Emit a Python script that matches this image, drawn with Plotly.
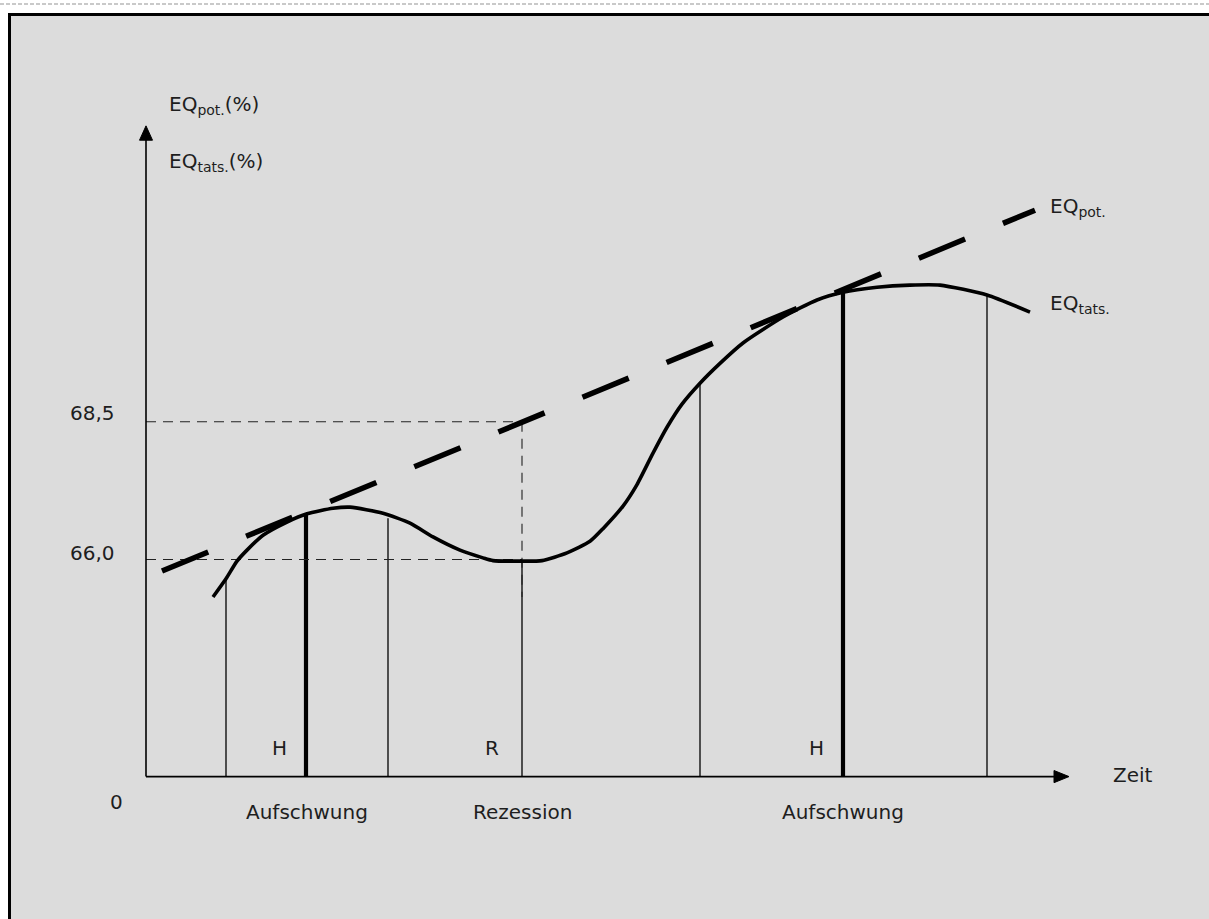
import plotly.graph_objects as go

# ---------------- data ----------------
# time axis: arbitrary units (origin at the y-axis); values in percent
tats_t = [6.7, 8.0, 9.1, 10.1, 11.7, 14.1, 16.1, 18.7, 20.4, 23.7, 26.4, 28.7, 31.4,
          33.7, 34.7, 37.6, 39.6, 42.1, 44.4, 45.7, 47.7, 49.1, 50.7, 52.1, 53.6,
          55.4, 57.4, 59.7, 63.7, 67.1, 69.7, 73.1, 76.4, 79.4, 84.1, 88.4]
tats_v = [65.32, 65.65, 65.97, 66.17, 66.44, 66.68, 66.83, 66.93, 66.95, 66.84, 66.66,
          66.41, 66.17, 66.03, 65.98, 65.97, 65.98, 66.12, 66.33, 66.56, 66.97, 67.36,
          67.93, 68.40, 68.82, 69.20, 69.56, 69.93, 70.40, 70.71, 70.85, 70.94, 70.98,
          70.98, 70.80, 70.49]

pot_t = [1.6, 88.9]
pot_v = [65.79, 72.34]

# phase boundaries (time, value where they meet EQ_tats, thick = turning point)
bound_t = [8.0, 16.0, 24.2, 37.6, 55.4, 69.7, 84.1]
bound_top = [65.63, 66.84, 66.75, 65.97, 69.20, 70.85, 70.80]
bound_thick = [False, True, False, False, False, True, False]

ref_values = [68.5, 66.0]
ref_labels = ["68,5", "66,0"]
ref_t = 37.6

axis_v0 = 62.06      # level of the time axis
axis_t_end = 92.3    # arrow tip of time axis
axis_v_end = 73.87   # arrow tip of EQ axis

phase_labels = ["Aufschwung", "Rezession", "Aufschwung"]
phase_label_t = [16.1, 37.6, 69.7]
point_labels = ["H", "R", "H"]
point_label_t = [13.3, 34.6, 67.0]

# ---------------- figure ----------------
W, H = 1209, 919
X_RANGE = [-14.6, 106.3]
Y_RANGE = [59.4755, 76.1543]
FONT = "DejaVu Sans, Verdana, sans-serif"
TXT = "#1e1e1e"

fig = go.Figure()

# thin / thick phase boundary lines
for thick_flag, width in [(False, 1.3), (True, 4.2)]:
    xs, ys = [], []
    for t, top, th in zip(bound_t, bound_top, bound_thick):
        if th == thick_flag:
            xs += [t, t, None]
            ys += [axis_v0, top, None]
    fig.add_trace(go.Scatter(x=xs, y=ys, mode="lines",
                             line=dict(color="black", width=width),
                             hoverinfo="skip", showlegend=False))

# dashed reference lines (68,5 and 66,0)
xs, ys = [], []
for v in ref_values:
    xs += [0, ref_t, None]
    ys += [v, v, None]
xs += [ref_t, ref_t]
ys += [ref_values[0], min(tats_v)]
fig.add_trace(go.Scatter(x=xs, y=ys, mode="lines",
                         line=dict(color="#222222", width=1.1, dash="10px,7px"),
                         hoverinfo="skip", showlegend=False))

# axes
fig.add_trace(go.Scatter(x=[0, 0, None, 0, axis_t_end - 1.2],
                         y=[axis_v0, axis_v_end - 0.2, None, axis_v0, axis_v0],
                         mode="lines", line=dict(color="black", width=1.6),
                         hoverinfo="skip", showlegend=False))
# arrow heads
fig.add_trace(go.Scatter(x=[0, -0.65, 0.65, 0], y=[axis_v_end, axis_v_end - 0.26, axis_v_end - 0.26, axis_v_end],
                         mode="lines", fill="toself", fillcolor="black",
                         line=dict(color="black", width=1), hoverinfo="skip", showlegend=False))
fig.add_trace(go.Scatter(x=[axis_t_end, axis_t_end - 1.5, axis_t_end - 1.5, axis_t_end],
                         y=[axis_v0, axis_v0 + 0.11, axis_v0 - 0.11, axis_v0],
                         mode="lines", fill="toself", fillcolor="black",
                         line=dict(color="black", width=1), hoverinfo="skip", showlegend=False))

# EQ_tats curve
fig.add_trace(go.Scatter(x=tats_t, y=tats_v, mode="lines",
                         line=dict(color="black", width=3.6, shape="spline", smoothing=0.6),
                         hoverinfo="skip", showlegend=False))
# EQ_pot trend line
fig.add_trace(go.Scatter(x=pot_t, y=pot_v, mode="lines",
                         line=dict(color="black", width=5.5, dash="50px,41px"),
                         hoverinfo="skip", showlegend=False))

# ---------------- text ----------------
ann = []
def txt(x, y, s, xa="center", ya="middle"):
    ann.append(dict(x=x, y=y, xref="x", yref="y", text=s, showarrow=False,
                    xanchor=xa, yanchor=ya, font=dict(family=FONT, size=20, color=TXT)))

txt(2.1, 74.25, "EQ<sub>pot.</sub>(%)", xa="left")
txt(2.1, 73.21, "EQ<sub>tats.</sub>(%)", xa="left")
txt(90.2, 72.40, "EQ<sub>pot.</sub>", xa="left")
txt(90.2, 70.64, "EQ<sub>tats.</sub>", xa="left")
txt(-2.9, 68.66, ref_labels[0], xa="right")
txt(-2.9, 66.12, ref_labels[1], xa="right")
txt(-3.0, 61.59, "0")
txt(96.5, 62.08, "Zeit", xa="left")
for t, s in zip(point_label_t, point_labels):
    txt(t, 62.58, s)
for t, s in zip(phase_label_t, phase_labels):
    txt(t, 61.42, s)

# ---------------- frame / background ----------------
shapes = [
    dict(type="rect", xref="paper", yref="paper", x0=9.5 / W, x1=1.1, y0=-0.1, y1=1 - 14.5 / H,
         line=dict(color="black", width=3), fillcolor="#dcdcdc", layer="below"),
    dict(type="line", xref="paper", yref="paper", x0=0, x1=1, y0=1 - 4 / H, y1=1 - 4 / H,
         line=dict(color="#b8b8b8", width=1.5, dash="4px,2px"), layer="below"),
]

fig.update_layout(
    width=W, height=H, autosize=False,
    margin=dict(l=0, r=0, t=0, b=0, pad=0),
    paper_bgcolor="white", plot_bgcolor="rgba(0,0,0,0)",
    xaxis=dict(range=X_RANGE, visible=False, fixedrange=True),
    yaxis=dict(range=Y_RANGE, visible=False, fixedrange=True),
    annotations=ann, shapes=shapes, showlegend=False,
)

fig.write_html("out.html", config={"displayModeBar": False},
               post_script="document.body.style.margin='0';document.body.style.overflow='hidden';")
